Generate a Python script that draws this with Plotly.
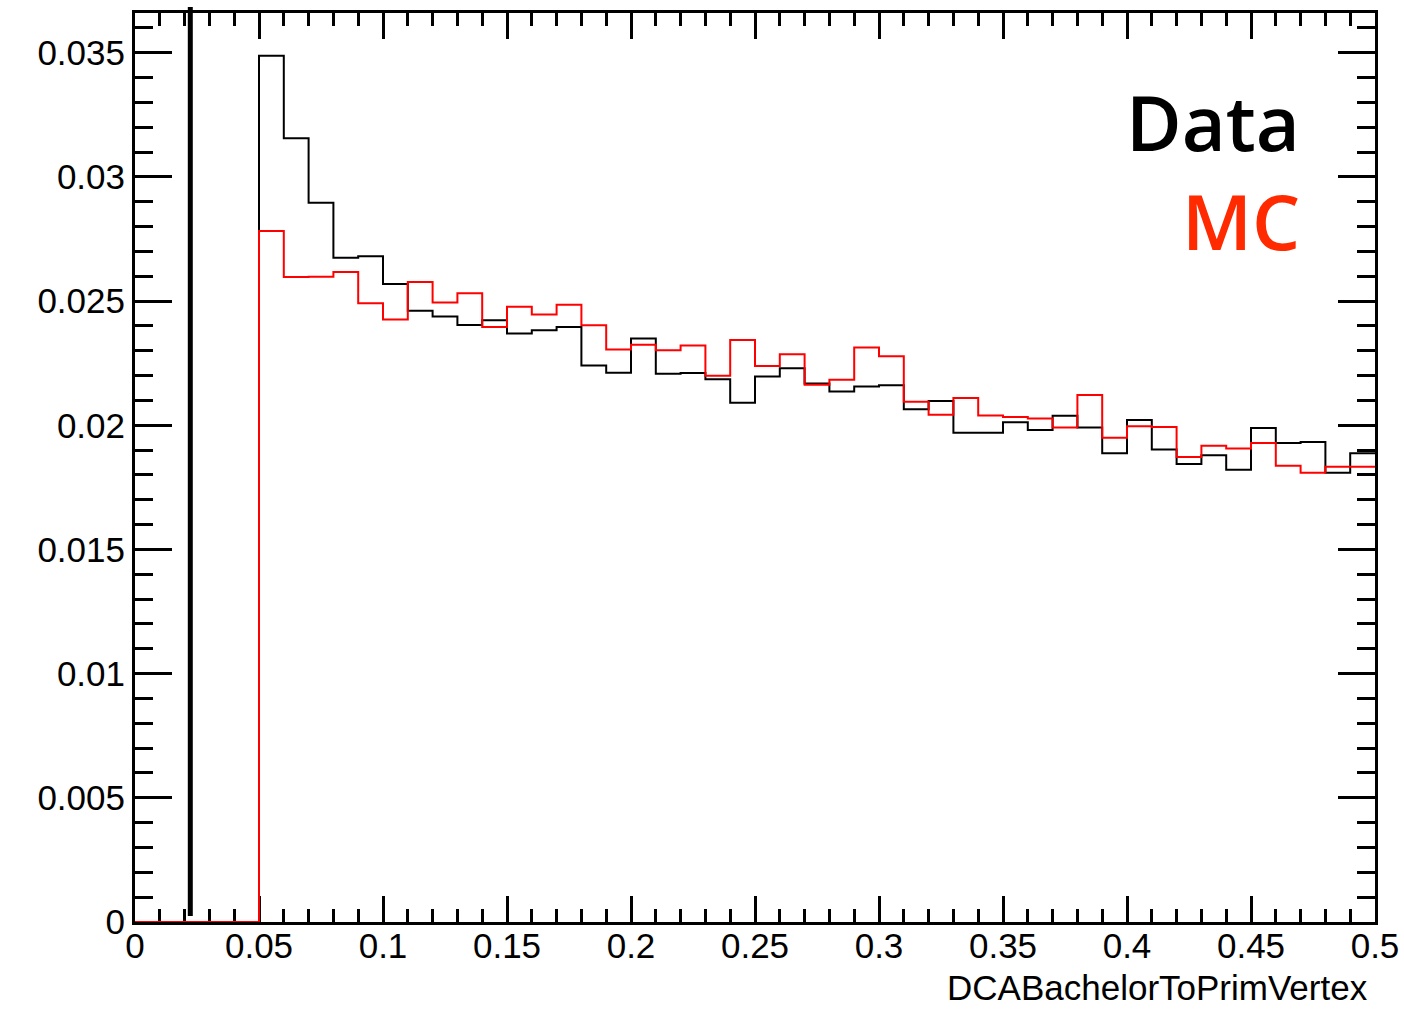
import plotly.graph_objects as go

# ---- data (bin width 0.01, range 0 - 0.5) ----
bin_lo = 0.0
bin_width = 0.01
n_bins = 50

data_vals = [0, 0, 0, 0, 0,
             0.03488, 0.03156, 0.02896, 0.02675, 0.02681,
             0.02569, 0.02461, 0.02438, 0.02404, 0.02423,
             0.02370, 0.02383, 0.02396, 0.02241, 0.02212,
             0.02349, 0.02207, 0.02210, 0.02185, 0.02091,
             0.02196, 0.02230, 0.02168, 0.02136, 0.02156,
             0.02161, 0.02065, 0.02098, 0.01970, 0.01970,
             0.02012, 0.01981, 0.02038, 0.01991, 0.01887,
             0.02021, 0.01902, 0.01844, 0.01879, 0.01821,
             0.01989, 0.01929, 0.01933, 0.01809, 0.01887]

mc_vals = [0, 0, 0, 0, 0,
           0.02782, 0.02597, 0.02598, 0.02617, 0.02491,
           0.02426, 0.02577, 0.02494, 0.02532, 0.02396,
           0.02477, 0.02446, 0.02485, 0.02403, 0.02305,
           0.02324, 0.02302, 0.02321, 0.02199, 0.02343,
           0.02239, 0.02286, 0.02163, 0.02183, 0.02313,
           0.02278, 0.02095, 0.02042, 0.02110, 0.02039,
           0.02033, 0.02027, 0.01991, 0.02122, 0.01950,
           0.01996, 0.01993, 0.01872, 0.01918, 0.01907,
           0.01929, 0.01837, 0.01809, 0.01833, 0.01833]

cut_value = 0.0223
x_title = "DCABachelorToPrimVertex"
labels = ["Data", "MC"]

edges = [bin_lo + i * bin_width for i in range(n_bins + 1)]


def step_xy(vals):
    xs = list(edges)
    ys = list(vals) + [vals[-1]]
    return xs, ys


fig = go.Figure()
xd, yd = step_xy(data_vals)
fig.add_trace(go.Scatter(x=xd, y=yd, mode="lines", line=dict(color="black", width=2, shape="hv"),
                         name=labels[0], showlegend=False, hoverinfo="skip"))
xm, ym = step_xy(mc_vals)
fig.add_trace(go.Scatter(x=xm, y=ym, mode="lines", line=dict(color="#ff0000", width=2, shape="hv"),
                         name=labels[1], showlegend=False, hoverinfo="skip"))

fig.add_shape(type="line", xref="x", yref="paper", x0=cut_value, x1=cut_value,
              y0=0.0066, y1=1.0066, line=dict(color="black", width=5), layer="above")

tickfont = dict(family="Liberation Sans, Arial, sans-serif", size=35, color="black")

fig.update_xaxes(range=[0, 0.5], dtick=0.05, tick0=0, ticks="inside", ticklen=26, tickwidth=3,
                 tickcolor="black", showline=True, linewidth=3, linecolor="black", mirror="allticks",
                 showgrid=False, zeroline=False, tickfont=tickfont, layer="below traces",
                 automargin=False,
                 minor=dict(dtick=0.01, tick0=0, ticks="inside", ticklen=13, tickwidth=3, tickcolor="black",
                            showgrid=False),
                 ticklabelstandoff=-9)
fig.update_yaxes(range=[0, 0.0366], dtick=0.005, tick0=0, ticks="inside", ticklen=37, tickwidth=3,
                 tickcolor="black", showline=True, linewidth=3, linecolor="black", mirror="allticks",
                 showgrid=False, zeroline=False, tickfont=tickfont, layer="below traces",
                 automargin=False,
                 minor=dict(dtick=0.001, tick0=0, ticks="inside", ticklen=18, tickwidth=3, tickcolor="black",
                            showgrid=False),
                 ticklabelstandoff=0)

fig.add_annotation(text=x_title, xref="paper", yref="paper", x=0.996, y=0, xanchor="right", yanchor="top",
                   yshift=-44, showarrow=False,
                   font=dict(family="Liberation Sans, Arial, sans-serif", size=35, color="black"))
fig.add_annotation(text="Data", xref="paper", yref="paper", x=0.941, y=0.881, xanchor="right",
                   yanchor="middle", showarrow=False,
                   font=dict(family="Open Sans, sans-serif", size=76, color="black", weight=600))
fig.add_annotation(text="MC", xref="paper", yref="paper", x=0.941, y=0.772, xanchor="right",
                   yanchor="middle", showarrow=False,
                   font=dict(family="Open Sans, sans-serif", size=76, color="#ff2a00", weight=600))

fig.update_layout(width=1404, height=1014, margin=dict(l=135, r=29, t=13, b=92, autoexpand=False),
                  plot_bgcolor="white", paper_bgcolor="white", showlegend=False)

fig.write_html("out.html")
